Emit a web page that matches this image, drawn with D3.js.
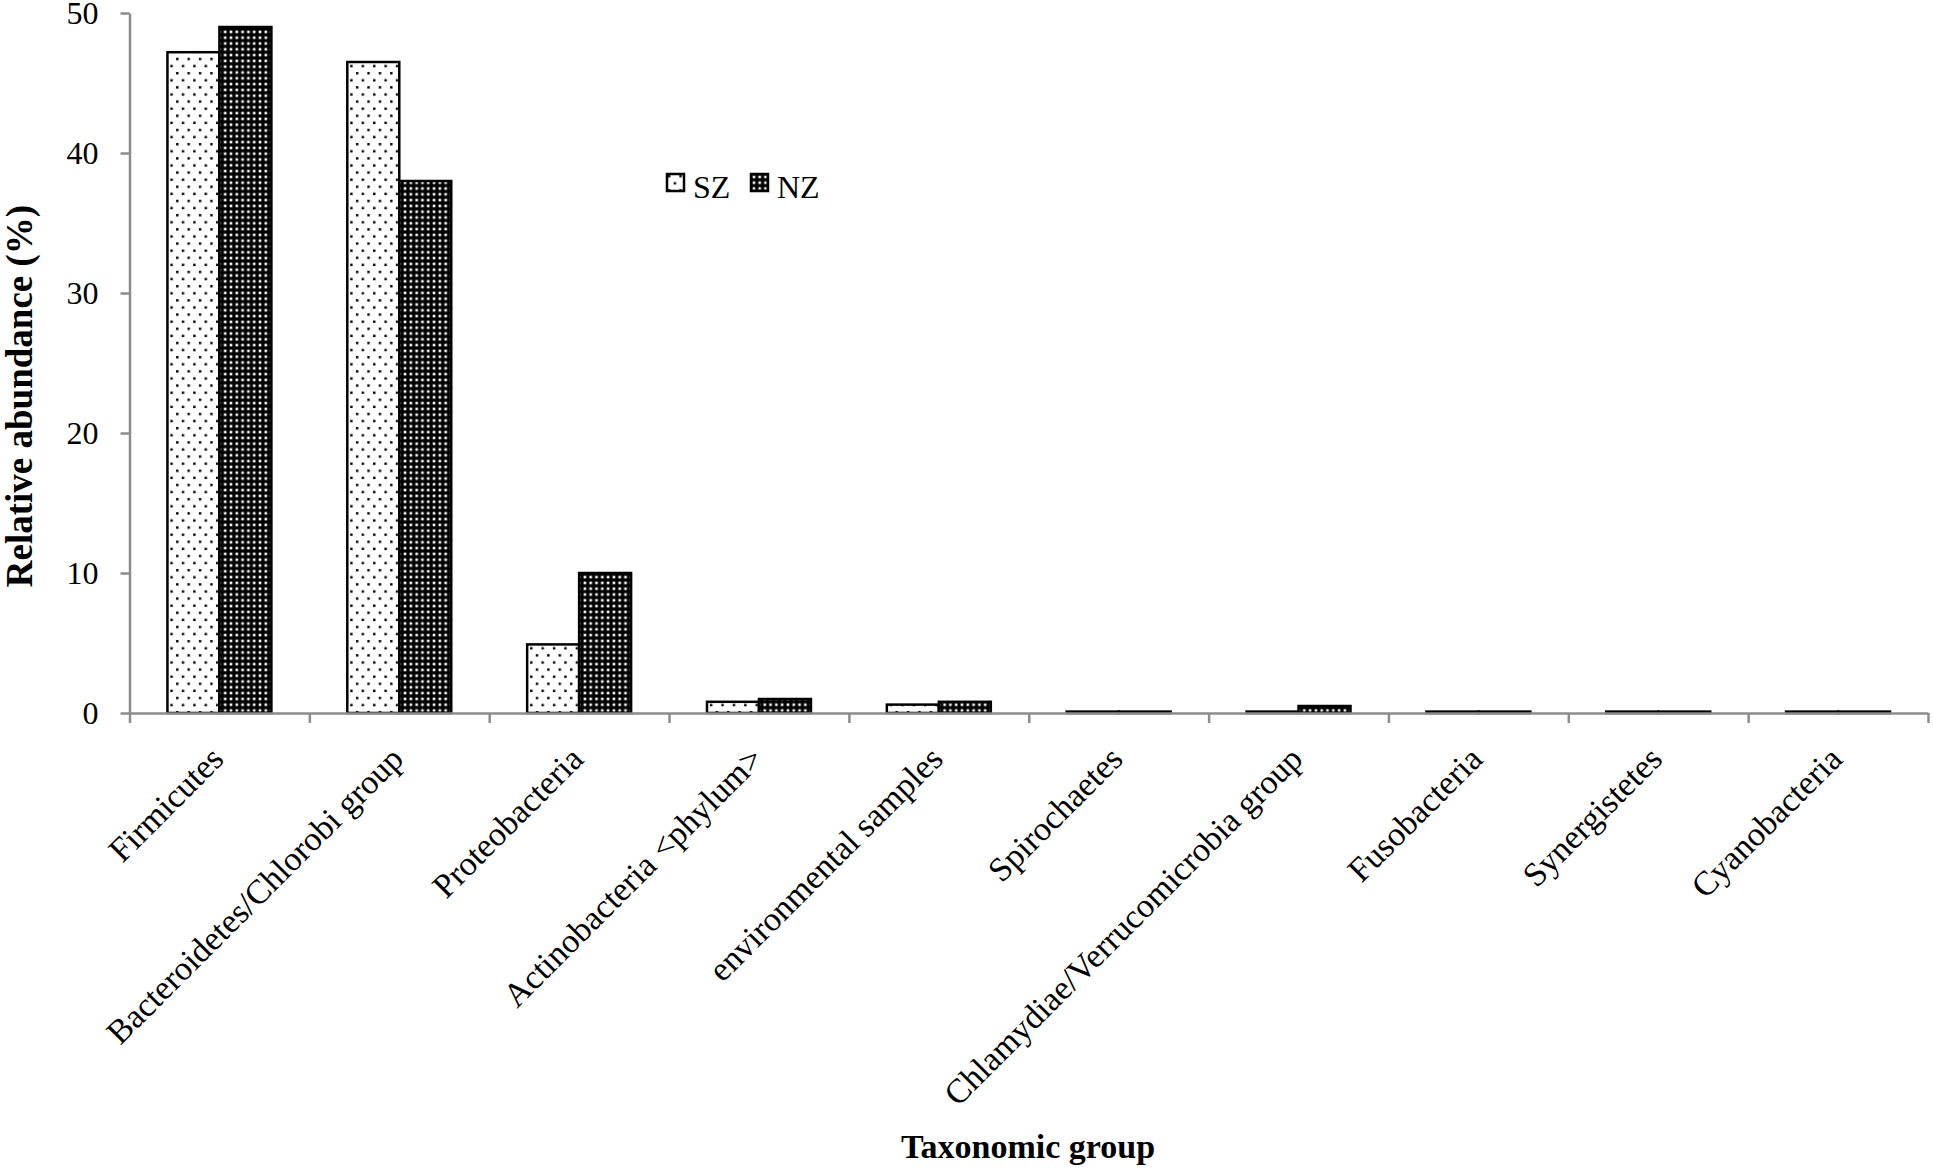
<!DOCTYPE html>
<html>
<head>
<meta charset="utf-8">
<script src="https://cdn.jsdelivr.net/npm/d3@7"></script>
<style>
  html, body { margin: 0; padding: 0; background: #fff; }
  svg { display: block; }
  text { font-family: "Liberation Serif", "Times New Roman", serif; fill: #000; }
</style>
</head>
<body>
<svg id="chart" width="1933" height="1169"></svg>
<script>
// values
var categories = [
    'Firmicutes',
    'Bacteroidetes/Chlorobi group',
    'Proteobacteria',
    'Actinobacteria <phylum>',
    'environmental samples',
    'Spirochaetes',
    'Chlamydiae/Verrucomicrobia group',
    'Fusobacteria',
    'Synergistetes',
    'Cyanobacteria'
];
var seriesNames = ['SZ', 'NZ'];
var szValues = [47.2, 46.5, 4.9, 0.8, 0.6, 0.1, 0.1, 0.1, 0.1, 0.1];
var nzValues = [49.0, 38.0, 10.0, 1.0, 0.8, 0.1, 0.5, 0.1, 0.1, 0.1];
var yTicks = [0, 10, 20, 30, 40, 50];

var svg = d3.select('#chart');
var axisColor = '#8c8c8c';

var plotLeft = 129.5, plotRight = 1928, plotTop = 13, plotBottom = 713;

// patterns
var defs = svg.append('defs');
var pSz = defs.append('pattern')
    .attr('id', 'pat-sz')
    .attr('patternUnits', 'userSpaceOnUse')
    .attr('width', 11.4).attr('height', 14.2);
pSz.append('rect').attr('width', 11.4).attr('height', 14.2).attr('fill', '#fff');
pSz.append('rect').attr('x', 1).attr('y', 1).attr('width', 2.4).attr('height', 2.4).attr('fill', '#000');
pSz.append('rect').attr('x', 6.7).attr('y', 8.1).attr('width', 2.4).attr('height', 2.4).attr('fill', '#000');

var pNz = defs.append('pattern')
    .attr('id', 'pat-nz')
    .attr('patternUnits', 'userSpaceOnUse')
    .attr('width', 5.8).attr('height', 5.8);
pNz.append('rect').attr('width', 5.8).attr('height', 5.8).attr('fill', '#000');
pNz.append('rect').attr('x', 1.6).attr('y', 1.6).attr('width', 2.6).attr('height', 2.6).attr('fill', '#fff');

var fills = { SZ: 'url(#pat-sz)', NZ: 'url(#pat-nz)' };

// scales
var y = d3.scaleLinear().domain([0, 50]).range([plotBottom, plotTop]);
var x0 = d3.scaleBand().domain(categories).range([plotLeft, plotRight]).padding(0);
var x1 = d3.scaleBand().domain(seriesNames).range([0, x0.bandwidth()])
    .paddingInner(0).paddingOuter(0.73);
var xEdges = d3.scaleLinear().domain([0, categories.length]).range([plotLeft, plotRight]);

var rows = categories.map(function(c, i) {
    return { cat: c, values: [
        { key: 'SZ', value: szValues[i] },
        { key: 'NZ', value: nzValues[i] }
    ] };
});

// bars
var groups = svg.append('g').selectAll('g')
    .data(rows).enter()
    .append('g')
    .attr('transform', function(d) { return 'translate(' + x0(d.cat) + ',0)'; });

groups.selectAll('rect')
    .data(function(d) { return d.values; }).enter()
    .append('rect')
    .attr('x', function(d) { return x1(d.key); })
    .attr('y', function(d) { return y(d.value); })
    .attr('width', x1.bandwidth())
    .attr('height', function(d) { return plotBottom - y(d.value); })
    .attr('fill', function(d) { return fills[d.key]; })
    .attr('stroke', '#000')
    .attr('stroke-width', 2.5);

// y axis
var yAxis = svg.append('g')
    .attr('transform', 'translate(' + plotLeft + ',0)')
    .call(d3.axisLeft(y).tickValues(yTicks).tickSize(9).tickPadding(22).tickSizeOuter(0));
yAxis.select('.domain').attr('stroke', axisColor).attr('stroke-width', 2.5);
yAxis.selectAll('.tick line').attr('stroke', axisColor).attr('stroke-width', 2.5);
yAxis.selectAll('.tick text')
    .style('font-family', '"Liberation Serif", "Times New Roman", serif')
    .style('font-size', '32px')
    .attr('fill', '#000')
    .attr('dy', '0.34em');

// x axis: ticks sit between the categories
var xAxis = svg.append('g')
    .attr('transform', 'translate(0,' + plotBottom + ')')
    .call(d3.axisBottom(xEdges).tickValues(d3.range(0, categories.length + 1))
        .tickFormat('').tickSize(10).tickSizeOuter(0));
xAxis.select('.domain').attr('stroke', axisColor).attr('stroke-width', 2.5);
xAxis.selectAll('.tick line').attr('stroke', axisColor).attr('stroke-width', 2.5);

// category labels
svg.append('g').selectAll('text')
    .data(categories).enter()
    .append('text')
    .attr('transform', function(d) {
        return 'translate(' + (x0(d) + x0.bandwidth() / 2 + 6) + ',' + 761 + ') rotate(-45)';
    })
    .attr('text-anchor', 'end')
    .style('font-size', '34px')
    .text(function(d) { return d; });

// axis titles
svg.append('text')
    .attr('transform', 'translate(32,396) rotate(-90)')
    .attr('text-anchor', 'middle')
    .style('font-size', '37px')
    .style('font-weight', 'bold')
    .text('Relative abundance (%)');

svg.append('text')
    .attr('x', 1028)
    .attr('y', 1158)
    .attr('text-anchor', 'middle')
    .style('font-size', '34px')
    .style('font-weight', 'bold')
    .text('Taxonomic group');

// legend
var legendItems = [
    { key: 'SZ', x: 667 },
    { key: 'NZ', x: 751 }
];
var legend = svg.append('g').selectAll('g')
    .data(legendItems).enter()
    .append('g')
    .attr('transform', function(d) { return 'translate(' + d.x + ',174)'; });
legend.append('rect')
    .attr('width', 17).attr('height', 17)
    .attr('fill', function(d) { return fills[d.key]; })
    .attr('stroke', '#000')
    .attr('stroke-width', 2.5);
legend.append('text')
    .attr('x', 26)
    .attr('y', 24)
    .style('font-size', '32px')
    .text(function(d) { return d.key; });
</script>
</body>
</html>
